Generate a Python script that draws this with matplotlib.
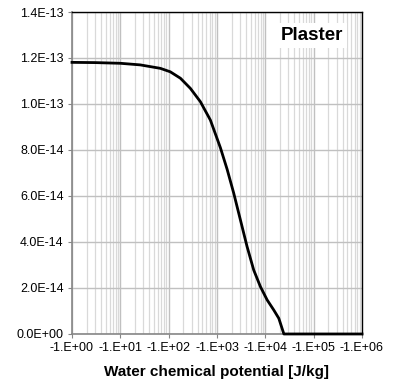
import numpy as np
import matplotlib
matplotlib.use("Agg")
import matplotlib.pyplot as plt
from matplotlib.ticker import FixedLocator, LogLocator, NullFormatter

plt.rcParams['font.family'] = ['Liberation Sans', 'DejaVu Sans']

# magnitude of water chemical potential (J/kg), plotted with negative labels
potential = [1, 3, 10, 25.9, 67.3, 108, 175, 281, 453, 730, 1175, 1620, 2220,
             3050, 4190, 5750, 7900, 10900, 14960, 19000, 24200, 1e5, 1e6]
# values in units of 1e-13
value_e13 = [1.181, 1.180, 1.177, 1.170, 1.155, 1.140, 1.112, 1.068, 1.010,
             0.930, 0.810, 0.716, 0.612, 0.496, 0.380, 0.278, 0.206, 0.148,
             0.104, 0.068, 0.0, 0.0, 0.0]
x_ticks = [1, 10, 100, 1000, 1e4, 1e5, 1e6]
x_labels = ["-1.E+00", "-1.E+01", "-1.E+02", "-1.E+03", "-1.E+04", "-1.E+05", "-1.E+06"]
y_ticks = [0, 2e-14, 4e-14, 6e-14, 8e-14, 1e-13, 1.2e-13, 1.4e-13]
y_labels = ["0.0E+00", "2.0E-14", "4.0E-14", "6.0E-14", "8.0E-14", "1.0E-13", "1.2E-13", "1.4E-13"]

fig = plt.figure(figsize=(4.0, 3.81), dpi=100)
ax = fig.add_axes([0.18, 0.1234, 0.725, 0.8451])

y = np.array(value_e13) * 1e-13
ax.plot(potential, y, color="black", lw=2.0, zorder=3, clip_on=False,
        solid_joinstyle="round")

ax.set_xscale("log")
ax.set_xlim(1, 1e6)
ax.set_ylim(0, 1.4e-13)

ax.xaxis.set_major_locator(FixedLocator(x_ticks))
ax.set_xticklabels(x_labels)
ax.xaxis.set_minor_locator(LogLocator(base=10, subs=np.arange(2, 10)))
ax.xaxis.set_minor_formatter(NullFormatter())
ax.set_yticks(y_ticks)
ax.set_yticklabels(y_labels)

ax.grid(True, which="major", axis="both", color="#c0c0c0", lw=1.0, zorder=0)
ax.grid(True, which="minor", axis="x", color="#d9d9d9", lw=0.9, zorder=0)

ax.tick_params(axis="both", which="major", direction="out", length=3,
               color="#868686", labelsize=9, pad=3)
ax.tick_params(axis="x", which="minor", length=0)

for side in ["top", "right"]:
    ax.spines[side].set_color("black")
    ax.spines[side].set_linewidth(1.0)
for side in ["left", "bottom"]:
    ax.spines[side].set_color("#868686")
    ax.spines[side].set_linewidth(1.2)

ax.set_xlabel("Water chemical potential [J/kg]", fontsize=11, fontweight="bold", labelpad=8)

ax.text(0.935, 0.928, "Plaster", transform=ax.transAxes, ha="right", va="center",
        fontsize=13.5, fontweight="bold",
        bbox=dict(facecolor="white", edgecolor="none", pad=3), zorder=5)

fig.savefig("out.png", dpi=100)
